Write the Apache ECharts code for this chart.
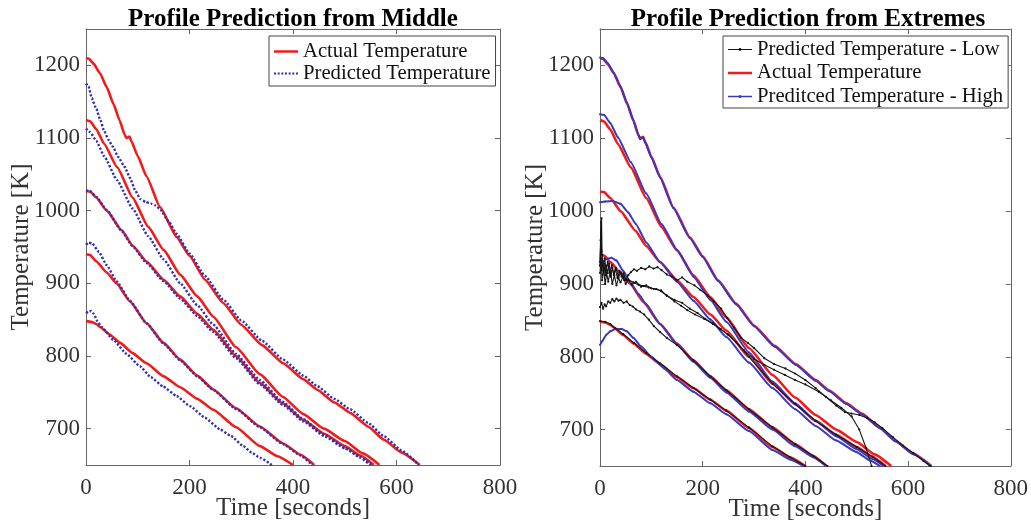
<!DOCTYPE html>
<html><head><meta charset="utf-8">
<script src="https://cdn.jsdelivr.net/npm/echarts@6/dist/echarts.min.js"></script>
<style>html,body{margin:0;padding:0;background:#fff}#c{width:1031px;height:527px}</style>
</head><body><div id="c"></div>
<script>
// ---------- data (time [s], temperature [K]) ----------
const titleLeft = 'Profile Prediction from Middle';
const titleRight = 'Profile Prediction from Extremes';
const xTicks = [0, 200, 400, 600, 800];
const yTicks = [700, 800, 900, 1000, 1100, 1200];

const actual1 = [[0,1210],[6,1209],[15,1202],[27,1189],[40,1170],[53,1147],[65,1124],[75,1104],[78,1100],[81,1101],[84,1102],[88,1095],[100,1075],[117,1047],[143,1005],[175,964],[200,938],[230,905],[265,873],[300,843],[340,815],[381,790],[420,768],[446,754],[480,736],[510,722],[545,703],[575,685],[610,667],[645,650]];
const actual2 = [[0,1125],[8,1123],[20,1112],[35,1092],[60,1060],[90,1018],[120,978],[150,946],[182,912],[215,882],[246,854],[290,812],[336,775],[380,744],[420,720],[460,700],[500,683],[535,666],[567,650]];
const actual3 = [[0,1027],[8,1026],[20,1018],[40,1000],[69,973],[90,952],[117,930],[150,905],[182,882],[215,858],[246,836],[290,800],[336,763],[380,735],[420,712],[460,693],[500,676],[530,663],[556,650]];
const actual4 = [[0,940],[8,939],[20,930],[40,915],[59,900],[85,875],[117,845],[150,818],[182,795],[215,773],[246,754],[290,728],[336,703],[380,680],[415,664],[441,650]];
const actual5 = [[0,848],[10,847],[20,844],[27,840],[45,830],[66,818],[90,804],[117,790],[150,772],[182,757],[215,741],[246,726],[290,702],[336,676],[370,662],[400,650]];

const predMid1 = [[0,1175],[5,1171],[11,1155],[20,1140],[27,1126],[35,1110],[43,1098],[52,1088],[62,1074],[75,1060],[85,1045],[95,1028],[105,1016],[115,1012],[125,1010],[135,1007],[143,1002],[160,985],[175,968],[200,941],[230,910],[265,878],[300,849],[340,821],[381,795],[420,773],[446,759],[480,741],[510,727],[545,708],[575,690],[610,670],[643,650]];
const predMid2 = [[0,1113],[8,1108],[20,1096],[35,1075],[60,1042],[90,1003],[120,965],[150,933],[182,900],[215,870],[246,843],[290,803],[336,767],[380,737],[420,713],[460,692],[500,674],[530,660],[549,650]];
const predMid3 = [[0,1028],[8,1027],[20,1019],[40,1001],[69,972],[90,951],[117,928],[150,903],[182,879],[215,855],[246,833],[290,797],[336,761],[380,733],[420,710],[460,690],[500,673],[530,661],[553,650]];
const predMid4 = [[0,953],[5,956],[12,955],[25,943],[40,925],[59,903],[85,876],[117,845],[150,817],[182,794],[215,772],[246,753],[290,727],[336,702],[380,679],[415,663],[437,650]];
const predMid5 = [[0,859],[5,861],[10,862],[15,858],[22,848],[30,840],[53,822],[78,803],[104,786],[125,771],[149,758],[175,745],[201,731],[230,715],[259,699],[280,690],[304,676],[320,667],[336,660],[359,650]];

const predHigh1 = [[0,1211],[6,1210],[15,1203],[27,1190],[40,1171],[53,1148],[65,1125],[75,1104],[78,1099],[81,1100],[84,1101],[88,1094],[100,1074],[117,1046],[143,1004],[175,963],[200,937],[230,904],[265,872],[300,842],[340,814],[381,789],[420,767],[446,753],[480,735],[510,721],[545,702],[575,684],[610,666],[645,650]];
const predHigh2 = [[0,1133],[8,1132],[20,1121],[35,1101],[60,1067],[90,1024],[120,982],[150,947],[182,910],[215,878],[246,848],[290,806],[336,766],[380,736],[420,712],[460,691],[500,673],[530,660],[552,650]];
const predHigh3 = [[0,1012],[10,1013],[25,1014],[40,1010],[55,998],[70,982],[90,957],[117,930],[150,903],[182,877],[215,851],[246,827],[290,792],[336,757],[380,728],[420,705],[460,685],[500,669],[525,658],[545,650]];
const predHigh4 = [[0,925],[5,930],[12,934],[22,936],[32,932],[45,918],[59,902],[75,886],[90,872],[117,845],[150,817],[182,793],[215,771],[246,751],[290,725],[336,700],[380,677],[415,662],[440,650]];
const predHigh5 = [[0,816],[5,822],[12,830],[20,835],[30,838],[42,838],[52,835],[65,826],[80,814],[100,800],[125,784],[150,768],[182,752],[215,736],[246,721],[290,698],[336,672],[370,659],[396,650]];

const predLow1 = [[0,925],[1,960],[2,985],[3,945],[4,930],[6,918],[8,928],[10,912],[12,925],[15,915],[18,928],[21,910],[24,922],[27,913],[30,920],[34,908],[38,918],[42,910],[46,915],[50,905],[55,912],[60,916],[66,920],[72,918],[80,922],[88,920],[96,924],[104,921],[112,923],[120,919],[130,913],[140,910],[150,905],[160,909],[170,903],[184,898],[195,892],[210,884],[222,876],[236,866],[248,853],[261,840],[275,826],[288,819],[300,812],[320,798],[339,790],[361,784],[380,777],[400,768],[420,757],[440,745],[460,733],[477,724],[490,722],[505,720],[520,716],[535,710],[550,702],[570,690],[590,678],[610,668],[630,657],[643,650]];
const predLow2 = [[0,915],[2,935],[4,905],[7,920],[10,900],[13,915],[16,903],[20,918],[24,900],[28,912],[32,898],[36,908],[40,902],[45,910],[50,900],[55,906],[62,899],[70,903],[80,896],[90,898],[100,894],[110,893],[119,890],[130,884],[145,878],[160,874],[175,866],[190,860],[205,852],[220,846],[235,838],[250,830],[265,820],[280,809],[300,797],[320,789],[339,782],[360,775],[380,768],[400,762],[426,752],[450,740],[470,730],[490,718],[505,700],[518,675],[529,650]];
const predLow3 = [[0,930],[2,970],[3,990],[4,940],[6,925],[9,935],[12,918],[15,930],[19,915],[23,926],[27,912],[31,922],[36,910],[41,916],[47,905],[55,906],[65,902],[75,899],[85,897],[95,895],[105,893],[119,891],[130,884],[145,876],[158,870],[170,864],[185,858],[203,852],[220,845],[235,838],[248,831],[265,820],[290,800],[336,763],[380,735],[420,712],[460,693],[500,676],[530,663],[556,650]];
const predLow4 = [[0,868],[3,874],[6,866],[9,872],[12,869],[16,876],[20,874],[24,879],[28,876],[32,880],[36,877],[40,878],[46,874],[52,876],[58,871],[64,869],[70,865],[78,862],[86,858],[95,851],[105,842],[117,834],[130,826],[150,816],[182,795],[215,773],[246,754],[290,728],[336,703],[380,680],[415,664],[443,650]];
const predLow5 = [[0,849],[10,848],[20,845],[30,839],[45,831],[66,819],[90,805],[117,791],[150,773],[182,757],[215,741],[246,726],[290,703],[336,677],[370,662],[400,650]];

const actualCurves = [actual1, actual2, actual3, actual4, actual5];
const midCurves = [predMid1, predMid2, predMid3, predMid4, predMid5];
const highCurves = [predHigh1, predHigh2, predHigh3, predHigh4, predHigh5];
const lowCurves = [predLow1, predLow2, predLow3, predLow4, predLow5];

// ---------- chart ----------
const FONT = 'Liberation Serif';
const RED = '#f01c1c', BLUE_DOT = '#3030b0', BLUE = '#3838c0', BLACK = '#141414';
const chart = echarts.init(document.getElementById('c'), null, {renderer: 'canvas'});

function xAx(gi, pos, labels) {
  return {
    type: 'value', gridIndex: gi, position: pos, min: 0, max: 800, interval: 200,
    axisLine: {show: true, onZero: false, lineStyle: {color: '#666', width: 1}},
    axisTick: {show: true, inside: true, length: 5, lineStyle: {color: '#666'}},
    axisLabel: {show: labels, margin: 11, fontFamily: FONT, fontSize: 23, color: '#333', formatter: v => String(v)},
    splitLine: {show: false},
    name: labels ? 'Time [seconds]' : '', nameLocation: 'middle', nameGap: 31, nameMoveOverlap: false,
    nameTextStyle: {fontFamily: FONT, fontSize: 25, color: '#333'}
  };
}
function yAx(gi, pos, labels) {
  return {
    type: 'value', gridIndex: gi, position: pos, min: 650, max: 1250,
    axisLine: {show: true, onZero: false, lineStyle: {color: '#666', width: 1}},
    axisTick: {show: true, inside: true, length: 5, customValues: yTicks, lineStyle: {color: '#666'}},
    axisLabel: {show: labels, margin: 6, customValues: yTicks, fontFamily: FONT, fontSize: 23, color: '#333', formatter: v => String(v)},
    splitLine: {show: false},
    name: labels ? 'Temperature [K]' : '', nameLocation: 'middle', nameGap: 52, nameMoveOverlap: false,
    nameTextStyle: {fontFamily: FONT, fontSize: 25, color: '#333'}
  };
}

const series = [];
function addLines(curves, name, xi, style) {
  curves.forEach(d => series.push(Object.assign({
    type: 'line', name: name, xAxisIndex: xi, yAxisIndex: xi, data: d,
    animation: false, silent: true
  }, style)));
}
const redStyle = {showSymbol: false, symbol: 'none', smooth: 0.15, smoothMonotone: 'x', lineStyle: {color: RED, width: 2.6}, itemStyle: {color: RED}};
addLines(actualCurves, 'Actual Temperature', 0, redStyle);
addLines(midCurves, 'Predicted Temperature', 0, {showSymbol: false, symbol: 'none', smooth: 0.15, smoothMonotone: 'x', lineStyle: {color: BLUE_DOT, width: 2.4, type: [2.2, 1.8]}, itemStyle: {color: BLUE_DOT}});
addLines(actualCurves, 'Actual Temperature', 2, redStyle);
addLines(highCurves, 'Preditced Temperature - High', 2, {symbol: 'circle', symbolSize: 2, showSymbol: true, showAllSymbol: true, smooth: 0.15, smoothMonotone: 'x', lineStyle: {color: BLUE, width: 2}, itemStyle: {color: BLUE}});
addLines(lowCurves, 'Predicted Temperature - Low', 2, {symbol: 'circle', symbolSize: 2.2, showSymbol: true, showAllSymbol: true, lineStyle: {color: BLACK, width: 1.1}, itemStyle: {color: BLACK}});

// legend icons (box 24 x 4)
const ANCH = 'M0,0 L0.001,0 L0,0.001 Z M24,4 L23.999,4 L24,3.999 Z ';
const iconSolid = 'path://' + ANCH + 'M0,0.7 L24,0.7 L24,3.3 L0,3.3 Z';
let dots = '';
for (let x = 0; x < 24; x += 3.8) dots += 'M' + x + ',0.9 L' + (x + 2.1) + ',0.9 L' + (x + 2.1) + ',3.1 L' + x + ',3.1 Z ';
const iconDotted = 'path://' + ANCH + dots;
const iconLow = 'path://' + ANCH + 'M0,1.55 L24,1.55 L24,2.45 L0,2.45 Z M10.6,2 A1.4,1.4 0 1 1 13.4,2 A1.4,1.4 0 1 1 10.6,2 Z';
const iconHigh = 'path://' + ANCH + 'M0,1.2 L24,1.2 L24,2.8 L0,2.8 Z M10.4,2 A1.6,1.6 0 1 1 13.6,2 A1.6,1.6 0 1 1 10.4,2 Z';

const legendBase = {
  orient: 'vertical', top: 36, itemWidth: 24, itemHeight: 4, itemGap: 1,
  backgroundColor: '#fff', borderColor: '#444', borderWidth: 1, borderRadius: 0,
  padding: [5, 5, 2, 5], selectedMode: false,
  textStyle: {fontFamily: FONT, fontSize: 20.7, color: '#111', lineHeight: 21}
};

chart.setOption({
  animation: false,
  backgroundColor: '#fff',
  title: [
    {text: titleLeft, left: 288, top: 2, textAlign: 'center', textStyle: {fontFamily: FONT, fontSize: 25, fontWeight: 'bold', color: '#000'}},
    {text: titleRight, left: 803, top: 2, textAlign: 'center', textStyle: {fontFamily: FONT, fontSize: 25, fontWeight: 'bold', color: '#000'}}
  ],
  legend: [
    Object.assign({}, legendBase, {left: 269, data: [
      {name: 'Actual Temperature', icon: iconSolid},
      {name: 'Predicted Temperature', icon: iconDotted}
    ]}),
    Object.assign({}, legendBase, {left: 723, itemGap: 2.5, padding: [3, 5, 1, 5], data: [
      {name: 'Predicted Temperature - Low', icon: iconLow},
      {name: 'Actual Temperature', icon: iconSolid},
      {name: 'Preditced Temperature - High', icon: iconHigh}
    ]})
  ],
  grid: [
    {left: 86, top: 29, width: 414, height: 436, containLabel: false},
    {left: 600, top: 29, width: 413, height: 437, containLabel: false}
  ],
  xAxis: [xAx(0, 'bottom', true), xAx(0, 'top', false), xAx(1, 'bottom', true), xAx(1, 'top', false)],
  yAxis: [yAx(0, 'left', true), yAx(0, 'right', false), yAx(1, 'left', true), yAx(1, 'right', false)],
  series: series
});
</script></body></html>
